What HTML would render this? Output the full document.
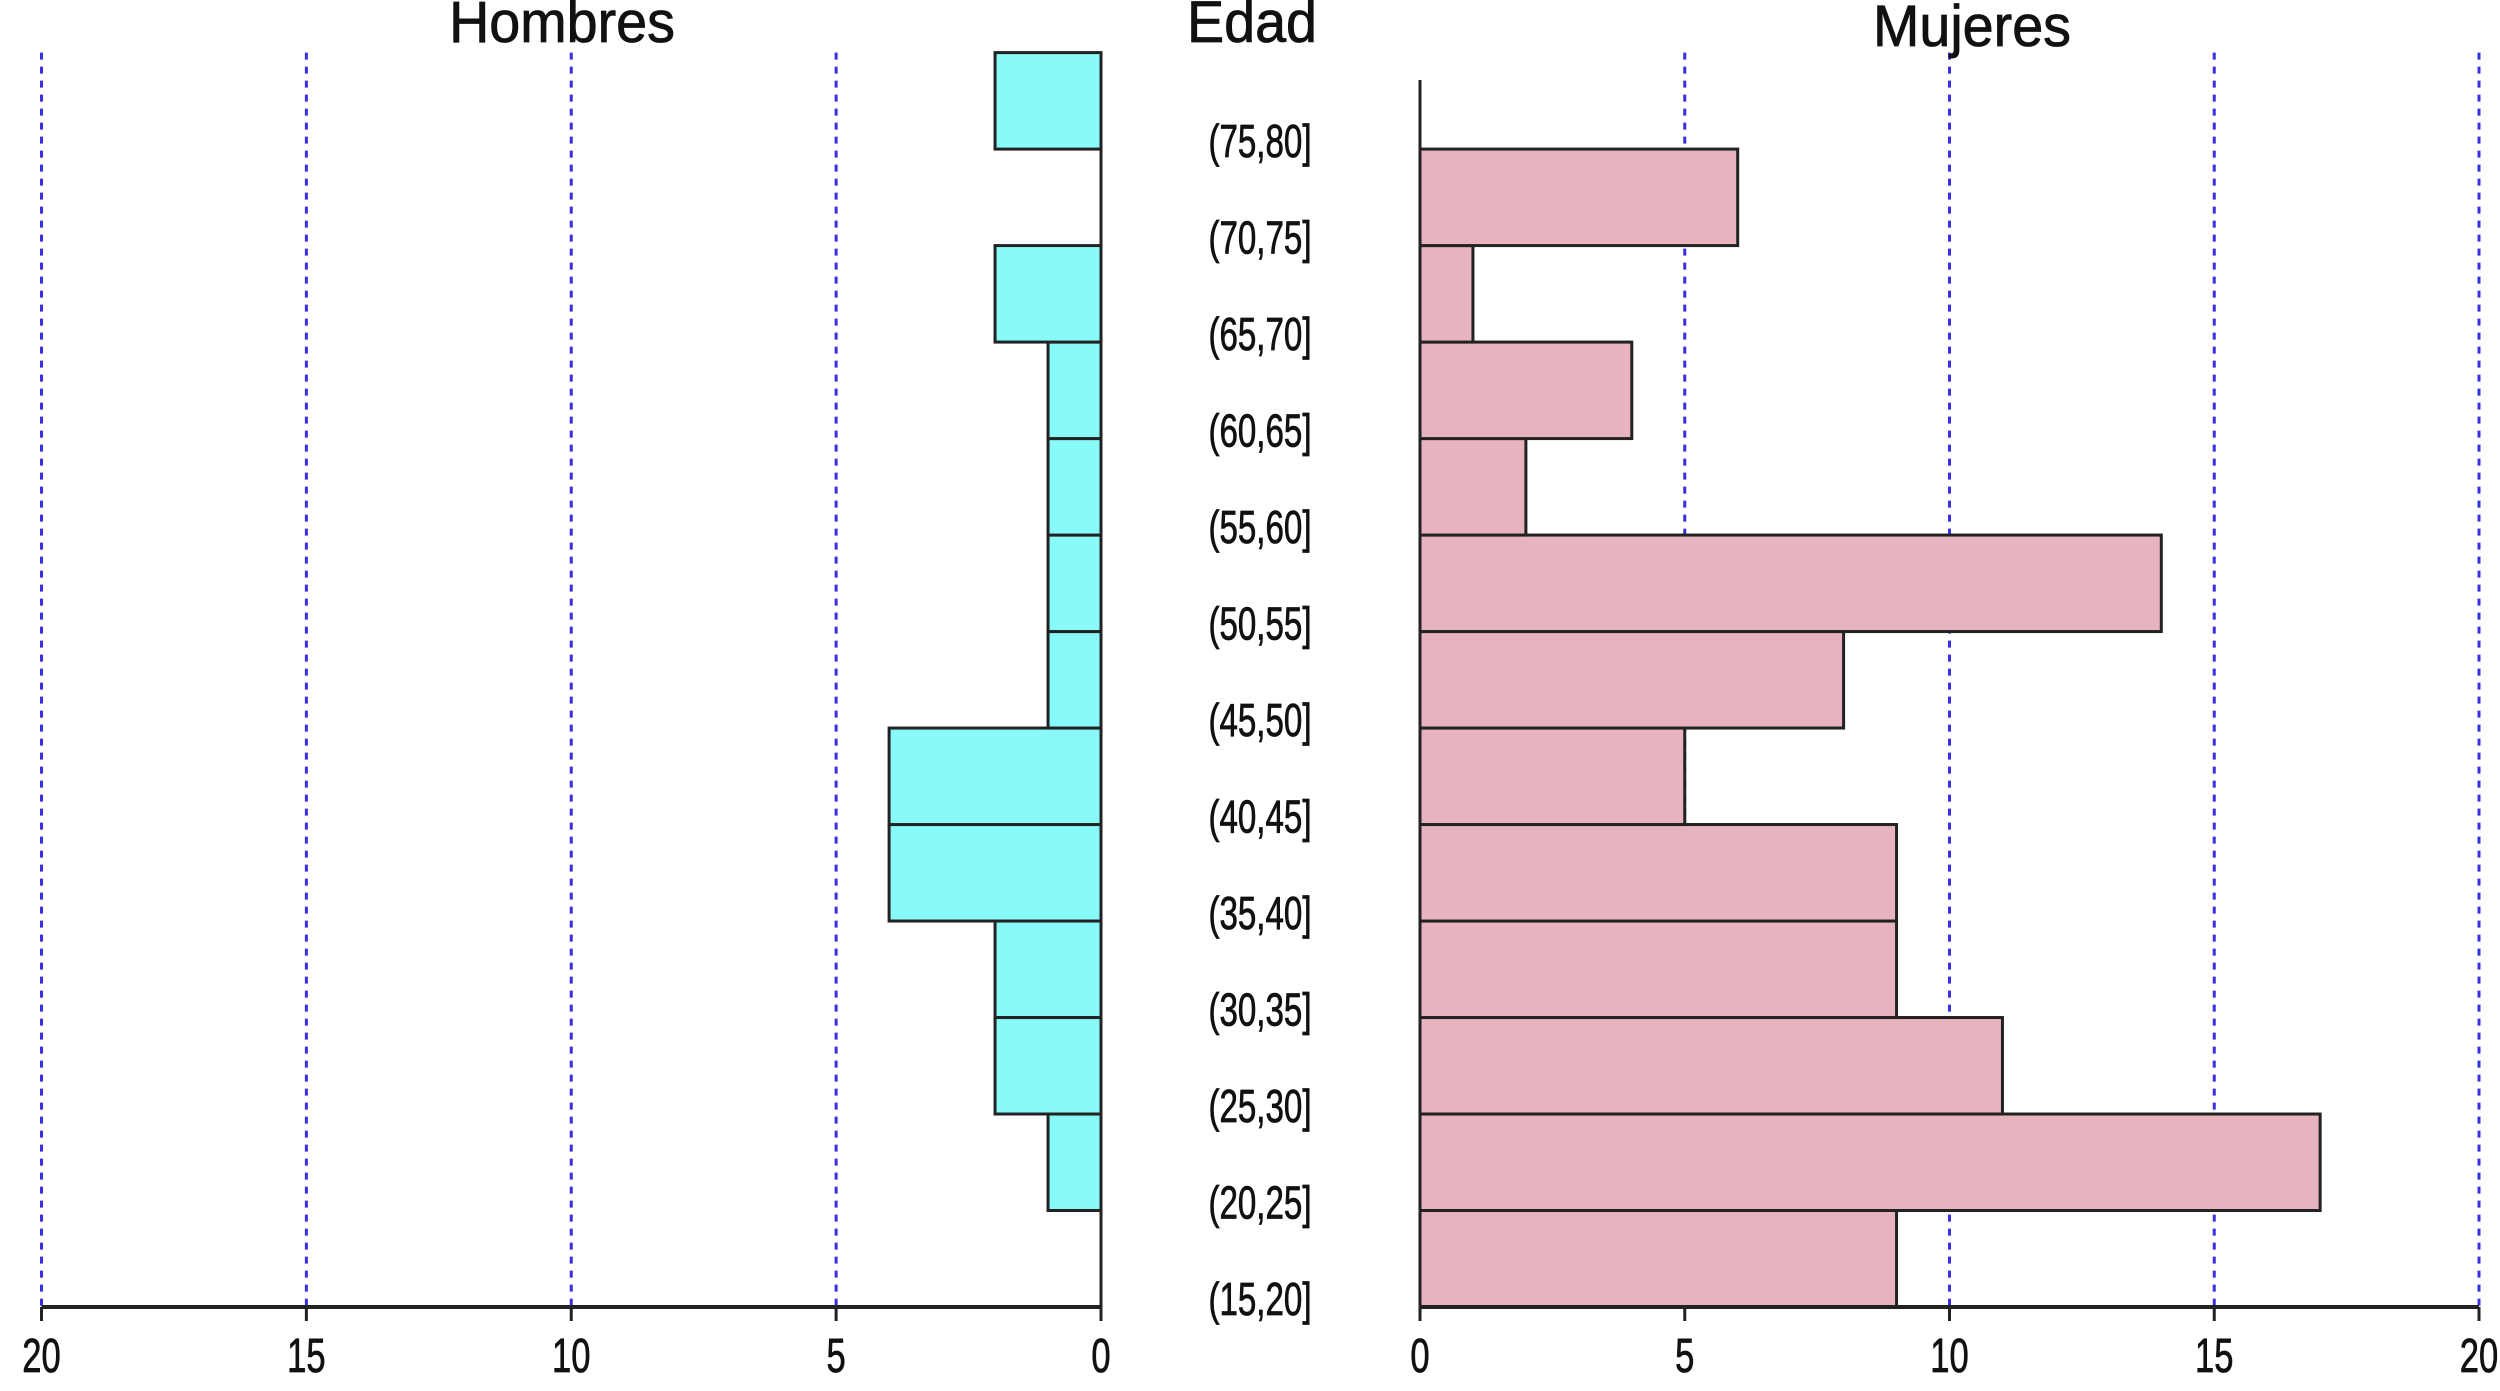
<!DOCTYPE html>
<html><head><meta charset="utf-8"><style>
html,body{margin:0;padding:0;background:#fff;}
svg{display:block;}
text{font-family:"Liberation Sans",sans-serif;fill:#111;stroke:#111;stroke-width:0.8;}
</style></head>
<body>
<svg id="chart" width="2500" height="1391" viewBox="0 0 2500 1391" xmlns="http://www.w3.org/2000/svg">
<g id="grid"></g>
<g id="bars"></g>
<g id="axes"></g>
<g id="labels"></g>
<text x="562" y="42" text-anchor="middle" font-size="58" transform="translate(562 0) scale(0.96 1) translate(-562 0)">Hombres</text>
<text x="1252" y="42" text-anchor="middle" font-size="58" transform="translate(1252 0) scale(0.96 1) translate(-1252 0)">Edad</text>
<text x="1972" y="46" text-anchor="middle" font-size="58" transform="translate(1972 0) scale(0.96 1) translate(-1972 0)">Mujeres</text>
</svg>
<script>
const categories = ["(15,20]","(20,25]","(25,30]","(30,35]","(35,40]","(40,45]","(45,50]","(50,55]","(55,60]","(60,65]","(65,70]","(70,75]","(75,80]"];
const hombres = [0,1,2,2,4,4,1,1,1,1,2,0,2];
const mujeres = [9,17,11,9,9,5,8,14,2,4,1,6,0];
const ticks = [0,5,10,15,20];

const NS = "http://www.w3.org/2000/svg";
const L0 = 1101, L20 = 41.5, R0 = 1420, R20 = 2479;
const yBottom = 1307, yTop = 52.6;
const bandH = (yBottom - yTop) / categories.length;
const xL = v => L0 + (L20 - L0) * v / 20;
const xR = v => R0 + (R20 - R0) * v / 20;
const yB = i => yBottom - bandH * (i + 1);

function mk(tag, attrs, parent) {
  const e = document.createElementNS(NS, tag);
  for (const k in attrs) e.setAttribute(k, attrs[k]);
  parent.appendChild(e);
  return e;
}
const grid = document.getElementById('grid');
const bars = document.getElementById('bars');
const axes = document.getElementById('axes');
const labels = document.getElementById('labels');

ticks.forEach(t => {
  if (t === 0) return;
  [xL(t), xR(t)].forEach((x, s) => {
    const l = mk('line', {x1: x, x2: x, y1: yTop, y2: yBottom, stroke: '#3a2fe0', 'stroke-width': 3, 'stroke-dasharray': '7 7'}, grid);
    
    
  });
});

categories.forEach((c, i) => {
  const y = yB(i);
  if (hombres[i] > 0) {
    const r = mk('rect', {x: xL(hombres[i]), y: y, width: L0 - xL(hombres[i]), height: bandH, fill: '#88fafa', stroke: '#222', 'stroke-width': 3}, bars);
    
    
  }
  if (mujeres[i] > 0) {
    const r = mk('rect', {x: R0, y: y, width: xR(mujeres[i]) - R0, height: bandH, fill: '#e6b3be', stroke: '#222', 'stroke-width': 3}, bars);
    
    
  }
  const cx = 1260, cy = yBottom - bandH * i + 8;
  const t = mk('text', {x: cx, y: cy, 'text-anchor': 'middle', 'font-size': 46, transform: `translate(${cx} 0) scale(0.72 1) translate(${-cx} 0)`}, labels);
  t.textContent = c;
  
  
});

let a = mk('line', {x1: L20, x2: L0, y1: yBottom, y2: yBottom, stroke: '#222', 'stroke-width': 4}, axes);
 
a = mk('line', {x1: L0, x2: L0, y1: yTop, y2: yBottom + 14, stroke: '#222', 'stroke-width': 3}, axes);
 
a = mk('line', {x1: R0, x2: R20, y1: yBottom, y2: yBottom, stroke: '#222', 'stroke-width': 4}, axes);
 
a = mk('line', {x1: R0, x2: R0, y1: 80, y2: yBottom + 14, stroke: '#222', 'stroke-width': 3}, axes);
 

ticks.forEach(t => {
  [[xL(t), 'hombres'], [xR(t), 'mujeres']].forEach(([x, side]) => {
    const tk = mk('line', {x1: x, x2: x, y1: yBottom, y2: yBottom + 14, stroke: '#222', 'stroke-width': 3}, axes);
    
    
    const tx = mk('text', {x: x, y: 1372, 'text-anchor': 'middle', 'font-size': 48, transform: `translate(${x} 0) scale(0.72 1) translate(${-x} 0)`}, axes);
    tx.textContent = t;
    
    
  });
});
</script>
</body></html>
